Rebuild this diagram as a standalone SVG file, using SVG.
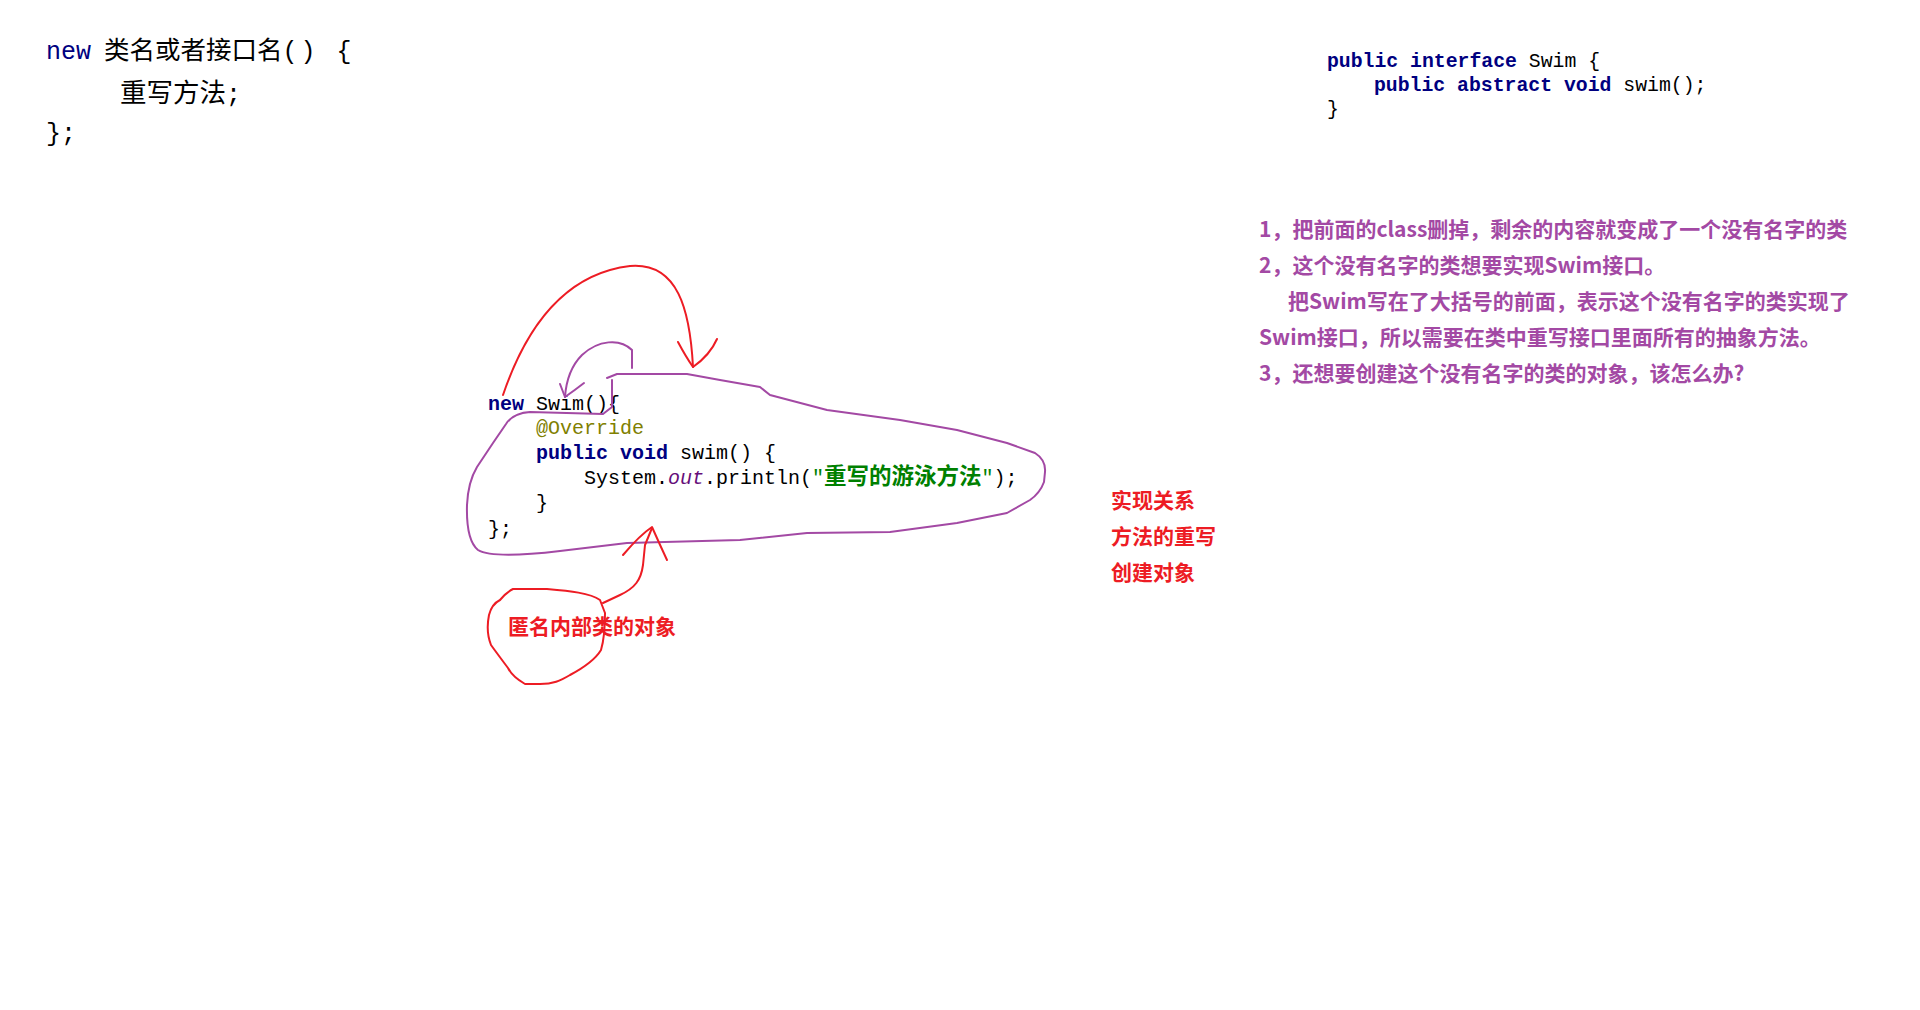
<svg xmlns="http://www.w3.org/2000/svg" width="1920" height="1010" viewBox="0 0 1920 1010">
<style>
.mono{font-family:"Liberation Mono","DejaVu Sans Mono","Noto Sans CJK SC",monospace;}
.kw{fill:#000080;font-weight:bold;}
.cjk{font-family:"Noto Sans CJK SC",sans-serif;}
.note{font-family:"Noto Sans CJK SC",sans-serif;font-weight:bold;font-size:21px;fill:#a349a4;}
.red{font-family:"Noto Sans CJK SC",sans-serif;font-weight:bold;font-size:21px;fill:#ed1c24;}
.pr{fill:none;stroke:#a349a4;stroke-width:2;stroke-linejoin:round;stroke-linecap:round;}
.rd{fill:none;stroke:#ed1c24;stroke-width:2;stroke-linejoin:round;stroke-linecap:round;}
</style>
<rect width="1920" height="1010" fill="#ffffff"/>

<g id="syntax">
<text x="46" y="59" font-size="25" class="mono" fill="#000080">new</text>
<text x="104" y="59" font-size="25.5" class="cjk" fill="#000">类名或者接口名<tspan class="mono" font-size="25" letter-spacing="3">() {</tspan></text>
<text x="120" y="102" font-size="26.5" class="cjk" fill="#000">重写方法<tspan class="mono" font-size="25">;</tspan></text>
<text x="46" y="141" font-size="25" class="mono" fill="#000">};</text>
</g>

<g id="interface-code" class="mono" font-size="19.8">
<text x="1327" y="67"><tspan class="kw">public interface</tspan><tspan fill="#000"> Swim {</tspan></text>
<text x="1374" y="91"><tspan class="kw">public abstract void</tspan><tspan fill="#000"> swim();</tspan></text>
<text x="1327" y="115" fill="#000">}</text>
</g>

<g id="notes" class="note">
<text x="1259" y="237">1，把前面的class删掉，剩余的内容就变成了一个没有名字的类</text>
<text x="1259" y="273">2，这个没有名字的类想要实现Swim接口。</text>
<text x="1288" y="309">把Swim写在了大括号的前面，表示这个没有名字的类实现了</text>
<text x="1259" y="345">Swim接口，所以需要在类中重写接口里面所有的抽象方法。</text>
<text x="1259" y="381">3，还想要创建这个没有名字的类的对象，该怎么办?</text>
</g>

<g id="anon-code" class="mono" font-size="20">
<text x="488" y="410"><tspan class="kw">new</tspan><tspan fill="#000"> Swim(){</tspan></text>
<text x="536" y="434" fill="#808000">@Override</text>
<text x="536" y="459"><tspan class="kw">public void</tspan><tspan fill="#000"> swim() {</tspan></text>
<text x="584" y="484" fill="#000">System.<tspan fill="#660e7a" font-style="italic">out</tspan>.println(<tspan fill="#008000">"<tspan class="cjk" font-size="22.5" font-weight="bold">重写的游泳方法</tspan>"</tspan>);</text>
<text x="536" y="509" fill="#000">}</text>
<text x="488" y="535" fill="#000">};</text>
</g>

<g id="labels">
<text x="1111" y="508" class="red">实现关系</text>
<text x="1111" y="544" class="red">方法的重写</text>
<text x="1111" y="580" class="red">创建对象</text>
</g>

<g id="anon-object">
<path class="rd" d="M513,589 L547,589 C570,591 590,593 600,600 L605,613 C605,630 604,640 601,650 C595,660 585,667 570,675 C560,681 553,684 540,684 L525,684 C518,680 512,676 508,668 C502,660 496,652 491,645 C487,635 487,625 489,615 C491,607 494,603 500,600 C505,594 509,591 513,589 Z"/>
<text x="508" y="634" class="red" font-size="22">匿名内部类的对象</text>
</g>

<g id="connectors">
<path class="rd" d="M503,395 C520,345 555,275 630,266 C678,262 690,310 693,367"/>
<path class="rd" d="M678,342 Q686,357 693,367 Q710,355 717,339"/>
<path class="pr" d="M632,368 L632,350 C620,338 598,340 582,355 C570,367 566,383 565,397"/>
<path class="pr" d="M560,384 L565,397 Q575,390 584,383"/>
<path class="pr" d="M607,378 L617,374 L687,374 L720,380 L760,387 L770,395 L827,410 L900,420 L957,430 L1007,443 L1035,453 Q1046,460 1045,472 L1044,482 Q1040,493 1030,500 L1007,513 L957,523 L890,532 L807,533 L740,540 L627,543 L560,551 Q493,559 478,550 Q466,540 467,505 Q468,482 477,467 L493,443 L506,424 Q513,413 530,412 L603,414 L612,407 L612,380"/>
<path class="rd" d="M623,555 Q640,535 652,527 Q660,545 667,560"/>
<path class="rd" d="M652,528 L645,545 L643,565 C641,580 635,588 620,595 L603,603"/>
</g>
</svg>
